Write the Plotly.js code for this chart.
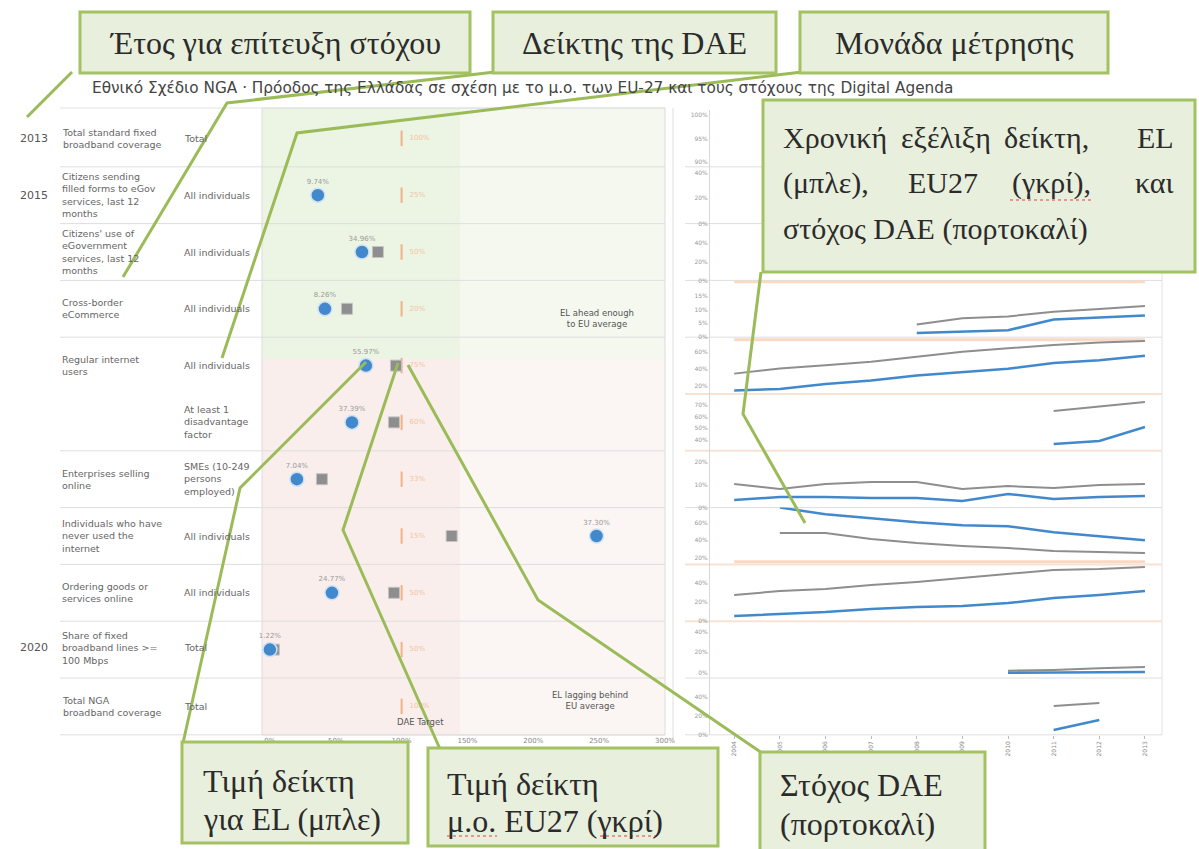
<!DOCTYPE html>
<html><head><meta charset="utf-8">
<script src="https://cdn.plot.ly/plotly-3.0.1.min.js"></script>
<style>html,body{margin:0;padding:0;background:#fff}#chart{width:1199px;height:849px}</style>
</head><body><div id="chart"></div>
<script>
// ---------------- DATA ----------------
const chartTitle = "Εθνικό Σχέδιο NGA · Πρόοδος της Ελλάδας σε σχέση με το μ.ο. των EU-27 και τους στόχους της Digital Agenda";
const rowIndex = [0,1,2,3,4,5,6,7,8,9,10];
const targetYears = ["2013","2015","","","","","","","","2020",""];
const indicators = [
  "Total standard fixed<br>broadband coverage",
  "Citizens sending<br>filled forms to eGov<br>services, last 12<br>months",
  "Citizens' use of<br>eGovernment<br>services, last 12<br>months",
  "Cross-border<br>eCommerce",
  "Regular internet<br>users",
  "",
  "Enterprises selling<br>online",
  "Individuals who have<br>never used the<br>internet",
  "Ordering goods or<br>services online",
  "Share of fixed<br>broadband lines >=<br>100 Mbps",
  "Total NGA<br>broadband coverage"
];
const units = [
  "Total","All individuals","All individuals","All individuals","All individuals",
  "At least 1<br>disadvantage<br>factor","SMEs (10-249<br>persons<br>employed)",
  "All individuals","All individuals","Total","Total"
];
// indicator value as % of the DAE target
const elPctOfTarget = [null,36.4,69.9,41.8,72.9,62.3,20.5,248,47.1,0,null];
const euPctOfTarget = [null,null,82,58.5,95.7,94.2,39.5,138,94.2,3,null];
const targetPct     = [100,100,100,100,100,100,100,100,100,100,100];
const elValueLabels = ["","9.74%","34.96%","8.26%","55.97%","37.39%","7.04%","37.30%","24.77%","1.22%",""];
const targetLabels  = ["100%","25%","50%","20%","75%","60%","33%","15%","50%","50%","100%"];
const dotTickVals = [0,50,100,150,200,250,300];
const dotTickText = ["0%","50%","100%","150%","200%","250%","300%"];

// time series (right panel)
const years = [2004,2005,2006,2007,2008,2009,2010,2011,2012,2013];
const elCrossBorder   = [null,null,null,null,1.5,2.0,2.5,6.4,7.2,7.8];
const euCrossBorder   = [null,null,null,null,4.6,6.8,7.5,9.2,10.2,11.3];
const tgCrossBorder   = [20,20,20,20,20,20,20,20,20,20];
const elRegularUsers  = [14.2,16.0,22.0,26.1,32.2,36.2,40.2,47.2,50.4,55.7];
const euRegularUsers  = [34.4,40.4,44.5,48.6,54.6,60.7,64.7,68.8,71.6,73.6];
const tgRegularUsers  = [75,75,75,75,75,75,75,75,75,75];
const elDisadvantaged = [null,null,null,null,null,null,null,36.0,38.6,51.0];
const euDisadvantaged = [null,null,null,null,null,null,null,65.0,69.0,73.0];
const elSmeSelling    = [3.3,4.7,4.7,4.2,4.2,2.9,6.0,3.8,4.7,5.1];
const euSmeSelling    = [10.4,8.2,10.4,11.3,11.3,8.2,9.5,8.6,9.9,10.4];
const elNeverUsed     = [null,77.0,69.5,64.9,60.3,56.9,55.7,48.8,44.3,39.7];
const euNeverUsed     = [null,47.9,47.9,41.1,36.5,33.1,30.8,27.3,26.2,25.0];
const tgNeverUsed     = [15,15,15,15,15,15,15,15,15,15];
const elOrdering      = [5.5,7.6,9.7,12.9,15.0,16.0,19.2,24.5,27.7,31.9];
const euOrdering      = [27.7,31.9,34.0,38.2,41.4,45.6,49.8,54.1,55.1,57.2];
const elFast100       = [null,null,null,null,null,null,0.0,0.2,0.5,0.8];
const euFast100       = [null,null,null,null,null,null,2.0,2.8,4.5,5.6];
const elNgaCoverage   = [null,null,null,null,null,null,null,5.1,15.6,null];
const euNgaCoverage   = [null,null,null,null,null,null,null,30.4,33.6,null];

// callout texts
const calloutYear = "Έτος για επίτευξη στόχου";
const calloutIndicator = "Δείκτης της DAE";
const calloutUnit = "Μονάδα μέτρησης";
const calloutTrendL1 = ["Χρονική","εξέλιξη","δείκτη,","EL"];
const calloutTrendL2 = ["(μπλε),","EU27","(γκρί),","και"];
const calloutTrendL3 = "στόχος DAE (πορτοκαλί)";
const calloutEL = ["Τιμή δείκτη","για EL (μπλε)"];
const calloutEU = ["Τιμή δείκτη","μ.ο. EU27 (γκρί)"];
const calloutTarget = ["Στόχος DAE","(πορτοκαλί)"];

// ---------------- LAYOUT HELPERS ----------------
const W = 1199, H = 849;
const px = x => x / W;
const py = y => 1 - y / H;
const ROW_TOP = 110, ROW_H = 56.8;
const rowTop = i => ROW_TOP + ROW_H * i;
const BLUE = "#4189cc", GREY = "#8e8e8e", ORANGE = "#f4b183", GREEN = "#9bbb59";
const SANS = "DejaVu Sans, Verdana, sans-serif";
const SERIF = "Liberation Serif, Times New Roman, serif";

const traces = [];
// ---- dot plot ----
traces.push({
  type:"scatter", mode:"markers+text", x: targetPct, y: rowIndex, text: targetLabels,
  textposition:"middle right", textfont:{family:SANS,size:7,color:"#f2c4a2"},
  marker:{symbol:"line-ns-open", size:11, color:ORANGE, line:{color:ORANGE,width:2}},
  cliponaxis:false, hoverinfo:"skip", xaxis:"x", yaxis:"y"
});
traces.push({
  type:"scatter", mode:"markers", x: euPctOfTarget, y: rowIndex,
  marker:{symbol:"square", size:11, color:GREY, line:{color:"#c4c4c4",width:1}},
  cliponaxis:false, hoverinfo:"skip", xaxis:"x", yaxis:"y"
});
traces.push({
  type:"scatter", mode:"markers+text", x: elPctOfTarget, y: rowIndex, text: elValueLabels,
  textposition:"top center", textfont:{family:SANS,size:7,color:"#9a9a9a"},
  marker:{symbol:"circle", size:14, color:BLUE, line:{color:"#cfe2f3",width:1.5}},
  cliponaxis:false, hoverinfo:"skip", xaxis:"x", yaxis:"y"
});

// ---- right panel small multiples ----
const rightRows = [
  {row:0, range:[89,101], ticks:[90,95,100]},
  {row:1, range:[0,45], ticks:[0,20,40]},
  {row:2, range:[0,60], ticks:[0,20,40]},
  {row:3, range:[0,20.5], ticks:[0,5,10,15], el:elCrossBorder, eu:euCrossBorder, tg:tgCrossBorder},
  {row:4, range:[10,78], ticks:[20,40,60], el:elRegularUsers, eu:euRegularUsers, tg:tgRegularUsers},
  {row:5, range:[30,80], ticks:[40,50,60,70], el:elDisadvantaged, eu:euDisadvantaged},
  {row:6, range:[0,25], ticks:[0,10,20], el:elSmeSelling, eu:euSmeSelling},
  {row:7, range:[12,77], ticks:[20,40,60], el:elNeverUsed, eu:euNeverUsed, tg:tgNeverUsed},
  {row:8, range:[0,60], ticks:[0,20,40], el:elOrdering, eu:euOrdering},
  {row:9, range:[-5,50], ticks:[0,20,40], el:elFast100, eu:euFast100},
  {row:10, range:[0,60], ticks:[0,20,40], el:elNgaCoverage, eu:euNgaCoverage}
];
const layout = {
  width:W, height:H, margin:{l:0,r:0,t:0,b:0}, paper_bgcolor:"#fff", plot_bgcolor:"rgba(0,0,0,0)",
  showlegend:false, font:{family:SANS, color:"#555"},
  xaxis:{domain:[px(262),px(665)], range:[-6,300], anchor:"y", tickvals:dotTickVals, ticktext:dotTickText,
    tickfont:{size:7,color:"#888"}, showgrid:false, zeroline:false, showline:false, ticks:"", fixedrange:true},
  yaxis:{domain:[py(rowTop(11)), py(rowTop(0))], range:[10.5,-0.5], visible:false, fixedrange:true},
  xaxis2:{domain:[px(710),px(1160)], range:[2003.47,2013.33], anchor:"y12", tickvals:years,
    ticktext:years.map(String), tickangle:-90, tickfont:{size:6,color:"#888"}, showgrid:false,
    zeroline:false, showline:false, ticks:"outside", ticklen:3, tickcolor:"#bbb"},
  shapes:[], annotations:[]
};
rightRows.forEach(r => {
  const ax = "y" + (r.row + 2);
  layout["yaxis" + (r.row + 2)] = {
    domain:[py(rowTop(r.row) + ROW_H), py(rowTop(r.row))], range:r.range, anchor:"x2",
    tickvals:r.ticks, ticktext:r.ticks.map(v => v + "%"), tickfont:{size:6,color:"#999"}, showgrid:false,
    zeroline:false, showline:true, linecolor:"#d8d8d8", ticks:"", fixedrange:true
  };
  traces.push({type:"scatter", mode:"lines", x:[null], y:[null], xaxis:"x2", yaxis:ax, hoverinfo:"skip"});
  if (r.tg) traces.push({type:"scatter", mode:"lines", x:years, y:r.tg, xaxis:"x2", yaxis:ax,
    line:{color:"#f9d9c4",width:3}, cliponaxis:false, hoverinfo:"skip"});
  if (r.eu) traces.push({type:"scatter", mode:"lines", x:years, y:r.eu, xaxis:"x2", yaxis:ax,
    line:{color:GREY,width:2}, cliponaxis:false, connectgaps:false, hoverinfo:"skip"});
  if (r.el) traces.push({type:"scatter", mode:"lines", x:years, y:r.el, xaxis:"x2", yaxis:ax,
    line:{color:BLUE,width:2.5}, cliponaxis:false, connectgaps:false, hoverinfo:"skip"});
});

// ---- background shapes ----
const S = layout.shapes;
const rect = (x0,y0,x1,y1,fill,line,layer) => S.push({type:"rect",xref:"paper",yref:"paper",
  x0:px(x0),x1:px(x1),y0:py(y1),y1:py(y0),fillcolor:fill,line:line||{width:0},layer:layer||"below"});
const seg = (x0,y0,x1,y1,color,width) => S.push({type:"line",xref:"paper",yref:"paper",
  x0:px(x0),x1:px(x1),y0:py(y0),y1:py(y1),line:{color:color,width:width},layer:"below"});
rect(262,108,460,359,"#ecf4e3");
rect(460,108,665,359,"#f4f8ef");
rect(262,359,460,735,"#f9eeeb");
rect(460,359,665,735,"#fbf5f3");
rect(262,108,665,735,"rgba(0,0,0,0)",{color:"#dcdcdc",width:1});
seg(673,108,673,740,"#dedede",1);
seg(1162,108,1162,735,"#e2e2e2",1);
seg(60,108,665,108,"#e4e4e4",1);
for (let k = 1; k <= 11; k++) {
  const y = rowTop(k);
  if (k !== 5) seg(60,y,665,y,"#dedede",1);
  const peach = [5,6,8,9].includes(k);
  seg(685,y,1162,y,peach?"#f8e2d4":"#dedede",peach?2:1);
}

// ---- callout connectors ----
const pathOf = pts => pts.map((p,i)=>(i?"L":"M")+px(p[0]).toFixed(5)+","+py(p[1]).toFixed(5)).join(" ");
const connector = pts => S.push({type:"path",xref:"paper",yref:"paper",path:pathOf(pts),
  line:{color:GREEN,width:3},layer:"above"});
connector([[72,72],[27,117]]);
connector([[495,72],[227,103],[123,277]]);
connector([[802,72],[297,133],[222,358]]);
connector([[761,272],[743,414],[805,523]]);
connector([[366,362],[240,488],[183,743]]);
connector([[398,363],[343,530],[440,749]]);
connector([[408,365],[538,600],[762,753]]);
// ---- callout boxes ----
const box = (x0,y0,x1,y1) => rect(x0,y0,x1,y1,"#e8efdc",{color:"#a3c262",width:3},"above");
box(80,12,470,73); box(493,12,776,73); box(800,12,1108,73);
box(763,100,1195,272);
box(182,742,408,843); box(428,748,718,846); box(760,752,985,852);
// spell-check squiggles
const squiggle = (x0,x1,y) => S.push({type:"line",xref:"paper",yref:"paper",x0:px(x0),x1:px(x1),
  y0:py(y),y1:py(y),line:{color:"#e04040",width:1,dash:"dot"},layer:"above"});
squiggle(1010,1092,200); squiggle(447,497,836); squiggle(600,660,836);

// ---- text annotations ----
const A = layout.annotations;
const txt = (text,x,y,o) => A.push(Object.assign({text:text,xref:"paper",yref:"paper",x:px(x),y:py(y),
  showarrow:false,xanchor:"left",yanchor:"middle",font:{family:SANS,size:9.5,color:"#666"}},o||{}));
txt(chartTitle,90,88,{font:{family:SANS,size:15.3,color:"#444"}});
rowIndex.forEach(i => {
  const yc = rowTop(i) + ROW_H/2 + (i===9?-2:0);
  if (targetYears[i]) txt(targetYears[i],18,yc,{font:{family:SANS,size:11,color:"#555"}});
  if (indicators[i]) txt(indicators[i],60,yc,{align:"left"});
  txt(units[i],182,yc,{align:"left"});
});
txt("EL ahead enough<br>to EU average",597,318,{xanchor:"center",align:"center",font:{family:SANS,size:8.5,color:"#555"}});
txt("EL lagging behind<br>EU average",590,700,{xanchor:"center",align:"center",font:{family:SANS,size:8.5,color:"#555"}});
txt("DAE Target",420,722,{xanchor:"center",font:{family:SANS,size:8.5,color:"#555"}});

const big = {family:SERIF,size:32,color:"#2b2b2b"};
const mid = {family:SERIF,size:30,color:"#2b2b2b"};
txt(calloutYear,275,43,{xanchor:"center",font:big});
txt(calloutIndicator,634,43,{xanchor:"center",font:big});
txt(calloutUnit,954,43,{xanchor:"center",font:big});
const l1x = [[781,"left"],[946,"center"],[1046,"center"],[1176,"right"]];
calloutTrendL1.forEach((w,i)=>txt(w,l1x[i][0],137,{xanchor:l1x[i][1],font:mid}));
const l2x = [[781,"left"],[943,"center"],[1051,"center"],[1176,"right"]];
calloutTrendL2.forEach((w,i)=>txt(w,l2x[i][0],183,{xanchor:l2x[i][1],font:mid}));
txt(calloutTrendL3,781,229,{font:mid});
txt(calloutEL[0],201,781,{font:big}); txt(calloutEL[1],201,819,{font:big});
txt(calloutEU[0],445,784,{font:big}); txt(calloutEU[1],445,821,{font:big});
txt(calloutTarget[0],778,785,{font:big}); txt(calloutTarget[1],778,824,{font:big});

Plotly.newPlot("chart", traces, layout, {staticPlot:true, displayModeBar:false});
</script></body></html>
